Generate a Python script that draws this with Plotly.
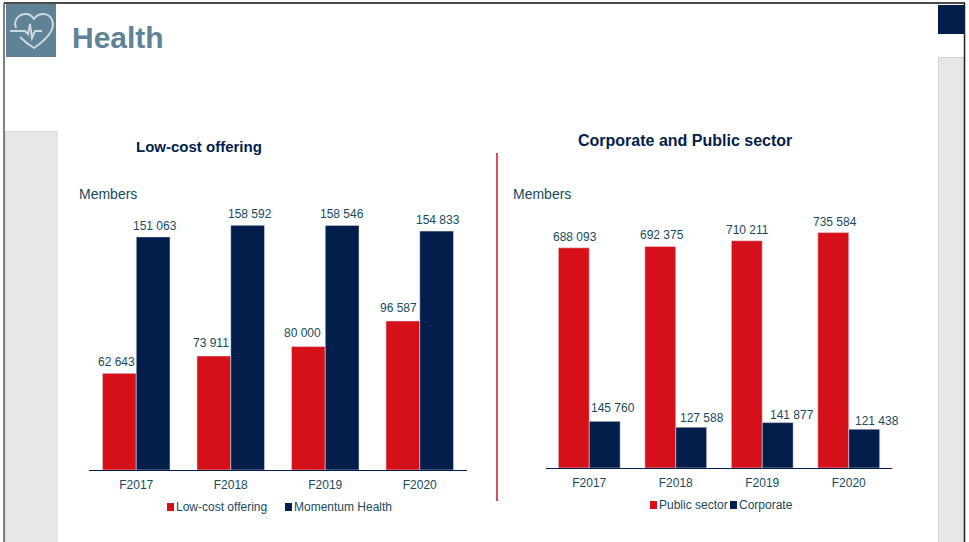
import plotly.graph_objects as go

W, H = 969, 542
years = ["F2017", "F2018", "F2019", "F2020"]
low_cost = [62643, 73911, 80000, 96587]
momentum = [151063, 158592, 158546, 154833]
public_sector = [688093, 692375, 710211, 735584]
corporate = [145760, 127588, 141877, 121438]

RED = "#d51019"
NAVY = "#041e4c"
TEAL = "#174a60"
SLATE = "#5f8297"
FONT = "Liberation Sans, Arial, sans-serif"

def fx(p): return p / W
def fy(p): return 1 - p / H
def fmt(v): return f"{v:,}".replace(",", " ")

fig = go.Figure()
fig.add_bar(x=years, y=low_cost, name="Low-cost offering", marker_color=RED, xaxis="x", yaxis="y", showlegend=False)
fig.add_bar(x=years, y=momentum, name="Momentum Health", marker_color=NAVY, xaxis="x", yaxis="y", showlegend=False)
fig.add_bar(x=years, y=public_sector, name="Public sector", marker_color=RED, xaxis="x2", yaxis="y2", showlegend=False)
fig.add_bar(x=years, y=corporate, name="Corporate", marker_color=NAVY, xaxis="x2", yaxis="y2", showlegend=False)

ann = []
def value_labels(vals, xref, yref, shifts, pads):
    for yr, v, s, pad in zip(years, vals, shifts, pads):
        ann.append(dict(x=yr, y=v, xref=xref, yref=yref, text=fmt(v), showarrow=False,
                        xshift=s, yshift=pad, yanchor="bottom", xanchor="center",
                        font=dict(family=FONT, size=12, color=TEAL)))
value_labels(low_cost, "x", "y", [-20, -20, -23, -21], [2, 4, 5, 4])
value_labels(momentum, "x", "y", [19, 19, 17, 18], [2, 2, 2, 2])
value_labels(public_sector, "x2", "y2", [-14, -14, -15, -14], [2, 2, 2, 2])
value_labels(corporate, "x2", "y2", [24, 26, 30, 28], [4, 0, -1, -1])

def txt(x, y, s, size, color, bold=False, anchor="left"):
    ann.append(dict(xref="paper", yref="paper", x=fx(x), y=fy(y), text=f"<b>{s}</b>" if bold else s,
                    showarrow=False, xanchor=anchor, yanchor="middle",
                    font=dict(family=FONT, size=size, color=color)))

txt(70, 38, "Health", 30, SLATE, True)
txt(199, 146, "Low-cost offering", 15, NAVY, True, "center")
txt(685, 141, "Corporate and Public sector", 16, NAVY, True, "center")
txt(77, 194, "Members", 14, TEAL)
txt(511, 194, "Members", 14, TEAL)
txt(174, 507, "Low-cost offering", 12, TEAL)
txt(292, 507, "Momentum Health", 12, TEAL)
txt(657, 505, "Public sector", 12, TEAL)
txt(737, 505, "Corporate", 12, TEAL)

shapes = []
def rect(x0, y0, x1, y1, fill, line=None, layer="below"):
    shapes.append(dict(type="rect", xref="paper", yref="paper", x0=fx(x0), x1=fx(x1), y0=fy(y0), y1=fy(y1),
                       fillcolor=fill, line=dict(color=line or fill, width=1 if line else 0), layer=layer))
def seg(x0, y0, x1, y1, color, w):
    shapes.append(dict(type="line", xref="paper", yref="paper", x0=fx(x0), x1=fx(x1), y0=fy(y0), y1=fy(y1),
                       line=dict(color=color, width=w)))

rect(5.5, 131.5, 57, 545, "#e6e7e8", "#d8d8d8")
rect(938.5, 57.5, 964, 545, "#e6e7e8", "#d4d4d4")
rect(938, 5, 964, 34, NAVY)
rect(6, 4, 56, 57, SLATE)
seg(4, 3, 965, 3, "#111111", 1.5)
seg(4, 3, 4, 542, "#555555", 1.5)
seg(964.5, 3, 964.5, 542, "#222222", 1.5)
seg(497, 153, 497, 501, "#d8202c", 1.6)
rect(167, 503, 174, 511, RED)
rect(285, 503, 292, 511, NAVY)
rect(650, 501, 657, 509, RED)
rect(730, 501, 737, 509, NAVY)

# heart icon
def P(pts):
    out = []
    for p in pts:
        if isinstance(p, str): out.append(p)
        else: out.append(f"{fx(p[0])},{fy(p[1])}")
    return " ".join(out)
heart = P(["M", (16, 28), "C", (13, 20), (19, 14), (26, 14), "C", (29, 14), (32, 16), (34, 19),
           "C", (36, 16), (39, 14), (43, 14), "C", (52, 14), (56, 24), (50, 33),
           "C", (46, 39), (40, 44), (34, 48), "C", (29, 45), (24, 41), (20, 37)])
pulse = P(["M", (10, 31), "L", (25, 31), "L", (28, 34), "L", (30, 24), "L", (32, 38), "L", (35, 31), "L", (42, 31)])
for p in (heart, pulse):
    shapes.append(dict(type="path", xref="paper", yref="paper", path=p,
                       line=dict(color="rgba(225,232,236,0.85)", width=2), fillcolor="rgba(0,0,0,0)"))

axis_common = dict(showgrid=False, zeroline=False, ticks="", linecolor=NAVY, linewidth=1, showline=True,
                   range=[-0.5, 3.5], tickfont=dict(family=FONT, size=12, color=TEAL), ticklabelstandoff=4)
fig.update_layout(
    width=W, height=H, margin=dict(l=0, r=0, t=0, b=0), paper_bgcolor="white", plot_bgcolor="rgba(0,0,0,0)",
    barmode="group", bargap=0.285, bargroupgap=0, showlegend=False,
    font=dict(family=FONT),
    xaxis=dict(domain=[fx(89), fx(467)], anchor="y", **axis_common),
    yaxis=dict(domain=[fy(470), fy(200)], range=[0, 175000], visible=False),
    xaxis2=dict(domain=[fx(546), fx(892)], anchor="y2", **axis_common),
    yaxis2=dict(domain=[fy(468), fy(200)], range=[0, 837500], visible=False),
    annotations=ann, shapes=shapes,
)
fig.write_html("out.html", config=dict(displayModeBar=False), post_script="document.body.style.margin='0';")
